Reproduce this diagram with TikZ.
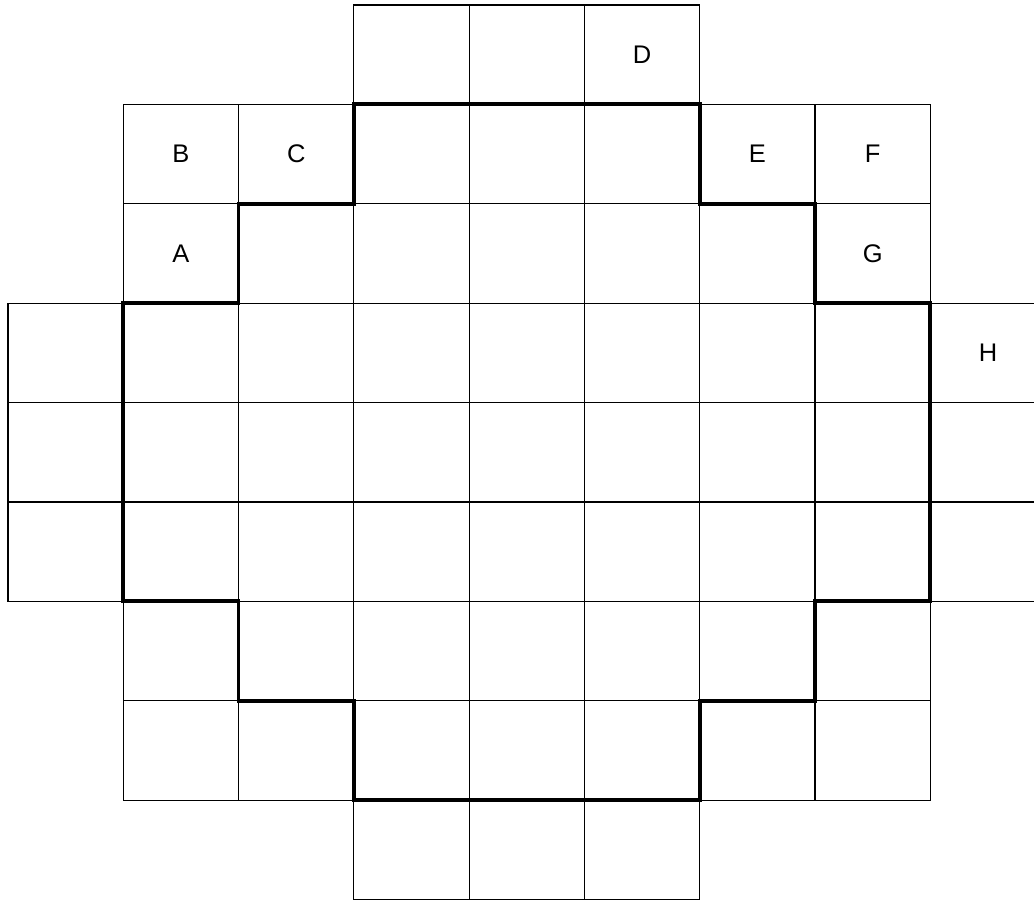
\documentclass[tikz,border=0pt]{standalone}
\usepackage{fontspec}
\setmainfont{Liberation Sans}

\begin{document}
\begin{tikzpicture}[x=2.306cm, y=-1.988cm,
    cell/.style={draw, line width=0.7pt},
    rim/.style={line width=2.2pt, line join=miter},
    lbl/.style={font=\fontsize{14.5}{16}\selectfont}]
  \useasboundingbox (-0.069,-0.05) rectangle (8.899,9.02);
  \clip (-0.069,-0.05) rectangle (8.899,9.02);
  % grid cells, row by row (row/first col/last col)
  \foreach \r/\a/\b in {0/3/5,1/1/7,2/1/7,3/0/8,4/0/8,5/0/8,6/1/7,7/1/7,8/3/5}
    \foreach \c in {\a,...,\b}
      \draw[cell] (\c,\r) rectangle ++(1,1);
  % thick outline
  \draw[rim] (3,1) -| (6,2) -| (7,3) -| (8,6) -| (7,7) -| (6,8) -| (3,7)
    -| (2,6) -| (1,3) -| (2,2) -| (3,1) -- cycle;
  % letters
  \node[lbl] (labA) at (1.5,2.5) {A};
  \node[lbl] (labB) at (1.5,1.5) {B};
  \node[lbl] (labC) at (2.5,1.5) {C};
  \node[lbl] (labD) at (5.5,0.5) {D};
  \node[lbl] (labE) at (6.5,1.5) {E};
  \node[lbl] (labF) at (7.5,1.5) {F};
  \node[lbl] (labG) at (7.5,2.5) {G};
  \node[lbl] (labH) at (8.5,3.5) {H};
\end{tikzpicture}
\end{document}
